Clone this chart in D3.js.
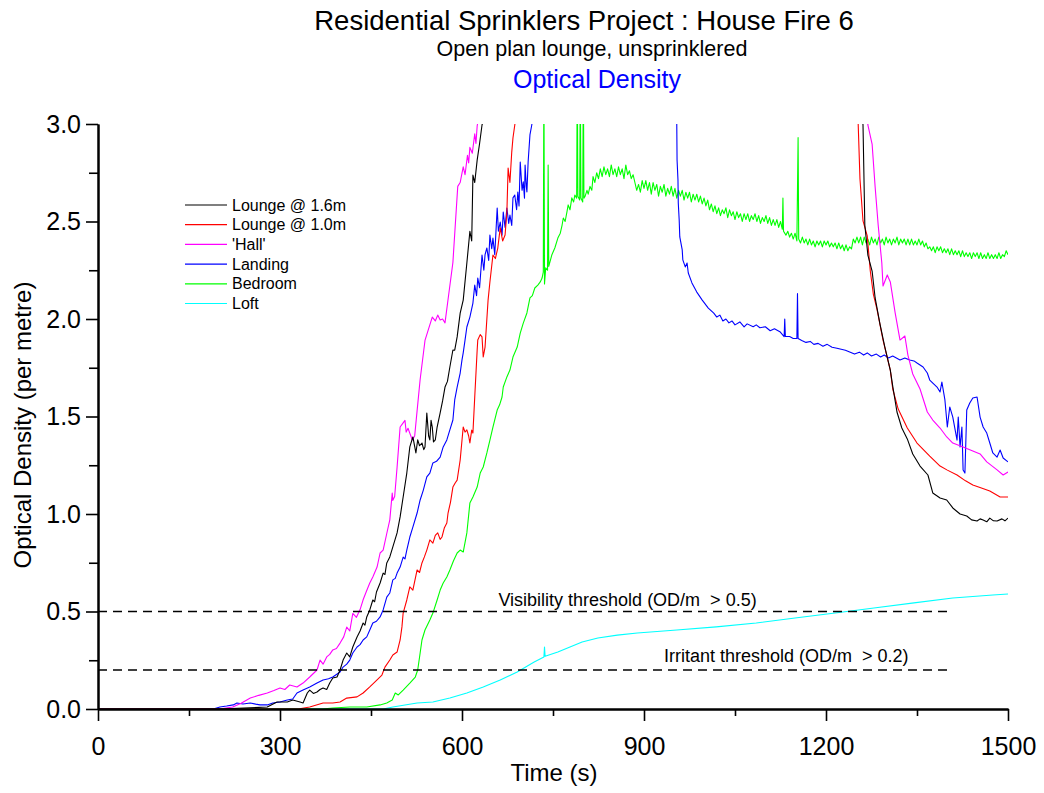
<!DOCTYPE html>
<html><head><meta charset="utf-8">
<script src="https://cdn.jsdelivr.net/npm/d3@7"></script>
<style>
body{margin:0;background:#fff}
svg text{font-family:Arial,"Liberation Sans",sans-serif}
</style></head>
<body><svg id="chart" width="1044" height="793"></svg>
<script>
// ---------------- data ----------------
const xTicks = [0,300,600,900,1200,1500];
const xMinorTicks = [150,450,750,1050,1350];
const yTicks = [0,0.5,1.0,1.5,2.0,2.5,3.0];
const yMinorTicks = [0.25,0.75,1.25,1.75,2.25,2.75];

const seriesNames = ["Lounge @ 1.6m","Lounge @ 1.0m","'Hall'","Landing","Bedroom","Loft"];
const seriesColors = ["#000000","#ff0000","#ff00ff","#0000ff","#00ff00","#00ffff"];

const thresholdNames = ["Visibility threshold (OD/m  > 0.5)","Irritant threshold (OD/m  > 0.2)"];
const thresholdValues = [0.5,0.2];
const thresholdEnd = 1400;

// [time (s), optical density (per metre)]; null = off scale (above 3.0)
const lounge16 = [[0,0],[200,0],[279,0.01],[295,0.036],[312,0.036],[321,0.046],[333,0.036],[338,0.031],[345,0.082],[349,0.097],[355,0.08],[361,0.087],[366,0.1],[371,0.108],[377,0.1],[382,0.133],[387,0.159],[394,0.164],[399,0.2],[404,0.251],[410,0.287],[415,0.267],[420,0.318],[427,0.369],[432,0.40],[437,0.441],[440,0.43],[443,0.472],[448,0.508],[453,0.559],[456,0.55],[459,0.60],[465,0.646],[470,0.697],[473,0.69],[476,0.749],[481,0.78],[486,0.831],[493,0.903],[498,0.985],[503,1.087],[509,1.21],[514,1.344],[519,1.395],[524,1.313],[527,1.38],[530,1.35],[534,1.364],[537,1.33],[539,1.344],[542,1.518],[545,1.40],[547,1.38],[549,1.48],[551,1.446],[553,1.37],[556,1.38],[559,1.446],[564,1.518],[568,1.58],[572,1.651],[576,1.68],[580,1.754],[585,1.841],[588,1.84],[592,1.908],[597,2.03],[602,2.097],[608,2.287],[613,2.45],[616,2.40],[618,2.738],[621,2.70],[625,2.815],[629,2.90],[633,2.995],[640,3.07],[641,null],[1258,null],[1259,3.07],[1261,2.995],[1264,2.482],[1269,2.328],[1276,2.246],[1281,2.108],[1289,1.974],[1297,1.856],[1306,1.738],[1310,1.656],[1317,1.523],[1325,1.441],[1334,1.385],[1343,1.308],[1355,1.246],[1368,1.2],[1376,1.108],[1388,1.082],[1399,1.072],[1409,1.031],[1421,1.0],[1432,0.99],[1440,0.97],[1449,0.964],[1454,0.975],[1459,0.969],[1465,0.96],[1470,0.979],[1476,0.965],[1482,0.964],[1490,0.975],[1495,0.965],[1500,0.979]];

const lounge10 = [[0,0],[330,0],[349,0.01],[371,0.031],[387,0.031],[399,0.036],[410,0.056],[427,0.062],[437,0.082],[448,0.113],[460,0.149],[468,0.174],[473,0.215],[481,0.251],[486,0.277],[493,0.292],[498,0.354],[501,0.421],[503,0.492],[509,0.559],[514,0.626],[519,0.61],[526,0.713],[530,0.70],[534,0.749],[538,0.78],[542,0.815],[547,0.867],[552,0.851],[556,0.89],[560,0.903],[564,0.87],[567,0.882],[571,0.93],[575,0.954],[577,1.005],[581,1.06],[585,1.138],[589,1.16],[592,1.174],[597,1.277],[602,1.446],[605,1.42],[608,1.431],[611,1.40],[613,1.364],[616,1.43],[618,1.415],[621,1.6],[625,1.841],[626,1.892],[630,1.92],[633,1.908],[635,1.805],[638,1.856],[643,2.097],[646,2.19],[651,2.328],[655,2.31],[659,2.364],[663,2.467],[667,2.40],[671,2.431],[674,2.549],[676,2.774],[679,2.70],[682,2.856],[684,2.928],[687,2.995],[691,3.07],[692,null],[1250,null],[1251,3.07],[1253,3.005],[1256,2.718],[1261,2.503],[1268,2.426],[1273,2.246],[1278,2.128],[1284,2.051],[1294,1.892],[1306,1.738],[1310,1.641],[1319,1.538],[1334,1.441],[1350,1.364],[1371,1.297],[1388,1.246],[1400,1.225],[1416,1.2],[1430,1.17],[1442,1.149],[1455,1.135],[1470,1.118],[1487,1.087],[1500,1.087]];

const hall = [[0,0],[200,0],[222,0.01],[236,0.03],[251,0.056],[265,0.07],[279,0.082],[290,0.095],[300,0.108],[308,0.10],[316,0.123],[328,0.113],[338,0.133],[349,0.164],[361,0.2],[366,0.251],[371,0.23],[377,0.267],[382,0.28],[387,0.303],[393,0.31],[399,0.338],[405,0.37],[410,0.42],[415,0.40],[420,0.49],[426,0.47],[432,0.51],[437,0.56],[442,0.60],[448,0.646],[453,0.677],[460,0.728],[465,0.80],[470,0.815],[476,0.90],[481,0.97],[485,1.108],[486,1.07],[489,1.09],[493,1.24],[498,1.446],[503,1.467],[506,1.48],[508,1.42],[511,1.44],[518,1.38],[522,1.40],[526,1.53],[531,1.69],[539,1.89],[544,1.94],[551,2.01],[556,1.99],[560,2.02],[564,1.995],[568,2.00],[572,1.98],[577,2.10],[585,2.29],[593,2.68],[597,2.70],[602,2.78],[605,2.74],[609,2.84],[611,2.80],[613,2.88],[617,2.85],[621,2.95],[623,2.90],[625,2.99],[630,3.07],[631,null],[1267,null],[1268,3.07],[1269,2.995],[1276,2.897],[1281,2.677],[1286,2.482],[1292,2.287],[1294,2.169],[1301,2.226],[1306,2.19],[1314,2.031],[1322,1.892],[1330,1.913],[1335,1.815],[1343,1.718],[1355,1.641],[1367,1.523],[1376,1.482],[1388,1.441],[1399,1.395],[1409,1.364],[1426,1.344],[1442,1.323],[1454,1.308],[1465,1.267],[1482,1.226],[1492,1.2],[1500,1.215]];

const landing = [[0,0],[190,0],[201,0.01],[212,0.015],[223,0.021],[229,0.031],[239,0.026],[251,0.031],[260,0.025],[267,0.021],[279,0.021],[288,0.031],[300,0.036],[312,0.046],[321,0.051],[328,0.082],[338,0.097],[349,0.113],[361,0.133],[371,0.149],[380,0.155],[387,0.164],[399,0.19],[404,0.215],[410,0.23],[415,0.251],[420,0.287],[427,0.318],[432,0.33],[437,0.354],[443,0.37],[448,0.405],[453,0.441],[459,0.45],[465,0.472],[470,0.508],[476,0.574],[481,0.595],[486,0.662],[490,0.67],[493,0.697],[498,0.728],[503,0.779],[506,0.77],[509,0.815],[514,0.882],[519,0.933],[526,1.005],[531,1.072],[536,1.12],[542,1.19],[547,1.21],[552,1.262],[558,1.27],[564,1.292],[569,1.344],[575,1.38],[580,1.431],[585,1.482],[588,1.585],[592,1.651],[597,1.723],[600,1.79],[602,1.826],[605,1.892],[608,1.959],[613,2.01],[618,2.082],[621,2.174],[624,2.12],[626,2.21],[629,2.16],[633,2.328],[636,2.25],[638,2.33],[641,2.364],[644,2.30],[646,2.431],[649,2.36],[651,2.415],[654,2.33],[656,2.45],[658,2.569],[660,2.45],[663,2.497],[666,2.43],[668,2.549],[671,2.47],[674,2.569],[677,2.49],[679,2.533],[682,2.48],[684,2.621],[687,2.636],[690,2.56],[692,2.651],[694,2.58],[696,2.805],[699,2.66],[701,2.703],[703,2.62],[704,2.79],[706,2.68],[707,2.651],[709,2.805],[712,2.944],[715,2.995],[719,3.07],[720,null],[952,null],[953,3.07],[954,3.005],[954.5,2.815],[956,2.713],[956.5,2.595],[958,2.508],[959,2.421],[963,2.354],[964,2.303],[968,2.267],[971,2.287],[973,2.236],[979,2.185],[987,2.138],[996,2.097],[1006,2.056],[1015,2.03],[1020,2.01],[1025,2.02],[1030,1.99],[1035,2.00],[1040,1.98],[1045,1.99],[1050,1.97],[1058,1.985],[1065,1.96],[1070,1.975],[1080,1.96],[1085,1.97],[1091,1.955],[1100,1.96],[1108,1.94],[1115,1.95],[1124,1.935],[1131,1.91],[1132,2.0],[1133,1.91],[1140,1.91],[1146,1.90],[1152,1.90],[1153,2.13],[1154,1.90],[1160,1.89],[1167,1.88],[1174,1.885],[1180,1.87],[1187,1.875],[1195,1.86],[1202,1.87],[1210,1.855],[1218,1.85],[1225,1.845],[1232,1.84],[1240,1.83],[1247,1.82],[1255,1.83],[1262,1.815],[1268,1.826],[1275,1.81],[1283,1.82],[1290,1.805],[1296,1.815],[1303,1.80],[1310,1.81],[1322,1.79],[1330,1.80],[1338,1.79],[1345,1.785],[1350,1.774],[1360,1.754],[1367,1.723],[1371,1.687],[1383,1.651],[1388,1.626],[1391,1.677],[1396,1.585],[1400,1.446],[1404,1.549],[1409,1.497],[1416,1.379],[1418,1.497],[1421,1.344],[1424,1.446],[1426,1.226],[1429,1.21],[1432,1.533],[1437,1.569],[1442,1.595],[1449,1.6],[1454,1.497],[1459,1.446],[1465,1.415],[1470,1.364],[1475,1.313],[1482,1.292],[1487,1.328],[1492,1.287],[1500,1.267]];

const bedroom = [[0,0],[370,0],[387,0.005],[415,0.01],[443,0.01],[465,0.021],[476,0.031],[485,0.046],[490,0.082],[495,0.072],[503,0.097],[514,0.133],[523,0.164],[527,0.2],[531,0.287],[534,0.354],[539,0.405],[547,0.456],[552,0.492],[559,0.559],[564,0.61],[569,0.646],[575,0.677],[580,0.713],[586,0.76],[592,0.8],[597,0.815],[602,0.805],[608,0.903],[613,1.056],[618,1.087],[625,1.138],[630,1.21],[635,1.241],[641,1.313],[646,1.379],[651,1.446],[658,1.533],[662,1.56],[666,1.6],[668,1.651],[674,1.703],[679,1.738],[684,1.805],[691,1.856],[696,1.928],[701,1.979],[707,2.031],[712,2.108],[716,2.12],[720,2.159],[725,2.174],[729,2.19],[732,2.21],[734,2.241],[735,3.3],[736,2.18],[738,2.262],[741,2.25],[742,2.79],[743,2.27],[748,2.328],[753,2.364],[758,2.415],[762,2.44],[765,2.482],[767,2.518],[770,2.50],[773,2.549],[775,2.585],[778,2.56],[781,2.621],[784,2.60],[786,2.636],[789,2.62],[790,3.3],[791,2.63],[794,2.61],[795,3.3],[796,2.62],[799,2.60],[800,3.3],[801,2.62],[803,2.63],[806,2.66],[808,2.64],[811,2.68],[814,2.66],[816,2.73],[819,2.70],[822,2.75],[825,2.72],[828,2.77],[831,2.73],[834,2.78],[837,2.74],[840,2.77],[843,2.73],[846,2.79],[849,2.74],[852,2.77],[855,2.73],[858,2.78],[861,2.74],[864,2.77],[867,2.72],[870,2.79],[873,2.74],[876,2.76],[879,2.72],[882,2.74],[885,2.70],[888,2.66],[891,2.69],[894,2.65],[897,2.71],[900,2.67],[903,2.71],[906,2.66],[909,2.70],[912,2.64],[915,2.70],[918,2.66],[921,2.69],[924,2.63],[927,2.68],[930,2.65],[933,2.69],[936,2.63],[939,2.67],[942,2.64],[945,2.68],[948,2.63],[951,2.67],[954,2.62],[957,2.66],[960,2.63],[963,2.66],[966,2.61],[969,2.65],[972,2.62],[975,2.65],[978,2.60],[981,2.64],[984,2.61],[987,2.64],[990,2.60],[993,2.63],[996,2.59],[999,2.62],[1002,2.58],[1005,2.61],[1008,2.56],[1011,2.59],[1014,2.55],[1017,2.58],[1020,2.54],[1023,2.57],[1026,2.53],[1029,2.56],[1032,2.54],[1035,2.57],[1038,2.52],[1041,2.56],[1044,2.53],[1047,2.55],[1050,2.51],[1053,2.55],[1056,2.52],[1059,2.54],[1062,2.50],[1065,2.54],[1068,2.51],[1071,2.54],[1074,2.50],[1077,2.53],[1080,2.51],[1083,2.54],[1086,2.50],[1089,2.53],[1092,2.49],[1095,2.52],[1098,2.50],[1101,2.53],[1104,2.49],[1107,2.52],[1110,2.48],[1113,2.51],[1116,2.48],[1119,2.51],[1122,2.47],[1125,2.50],[1128,2.46],[1129,2.62],[1130,2.45],[1134,2.43],[1137,2.45],[1140,2.42],[1143,2.44],[1146,2.41],[1149,2.44],[1152,2.40],[1154,2.93],[1155,2.41],[1158,2.39],[1161,2.42],[1164,2.39],[1167,2.41],[1170,2.38],[1173,2.41],[1176,2.38],[1179,2.40],[1182,2.37],[1185,2.40],[1188,2.38],[1191,2.40],[1194,2.37],[1197,2.40],[1200,2.38],[1203,2.40],[1206,2.37],[1209,2.39],[1212,2.37],[1215,2.39],[1218,2.36],[1221,2.39],[1224,2.36],[1227,2.38],[1230,2.35],[1233,2.38],[1236,2.35],[1239,2.37],[1242,2.36],[1245,2.41],[1248,2.39],[1251,2.42],[1254,2.39],[1257,2.42],[1260,2.38],[1263,2.42],[1266,2.39],[1269,2.41],[1272,2.38],[1275,2.42],[1278,2.39],[1281,2.41],[1284,2.38],[1287,2.42],[1290,2.39],[1293,2.41],[1296,2.38],[1299,2.42],[1302,2.39],[1305,2.41],[1308,2.38],[1311,2.41],[1314,2.39],[1317,2.42],[1320,2.38],[1323,2.41],[1326,2.39],[1329,2.41],[1332,2.38],[1335,2.41],[1338,2.38],[1341,2.41],[1344,2.38],[1347,2.40],[1350,2.38],[1353,2.41],[1356,2.38],[1359,2.40],[1362,2.37],[1365,2.39],[1368,2.36],[1371,2.37],[1374,2.35],[1377,2.37],[1380,2.34],[1383,2.37],[1386,2.35],[1389,2.37],[1392,2.34],[1395,2.36],[1398,2.34],[1401,2.36],[1404,2.33],[1407,2.36],[1410,2.33],[1413,2.35],[1416,2.33],[1419,2.35],[1422,2.32],[1425,2.35],[1428,2.32],[1431,2.34],[1434,2.32],[1437,2.34],[1440,2.31],[1443,2.34],[1446,2.32],[1449,2.34],[1452,2.31],[1455,2.34],[1458,2.31],[1461,2.33],[1464,2.31],[1467,2.34],[1470,2.31],[1473,2.33],[1476,2.31],[1479,2.33],[1482,2.31],[1485,2.34],[1488,2.31],[1491,2.33],[1494,2.32],[1497,2.35],[1500,2.33]];

const loft = [[0,0],[470,0],[486,0.01],[526,0.031],[552,0.036],[580,0.056],[608,0.082],[635,0.113],[663,0.149],[691,0.19],[719,0.241],[735,0.267],[736,0.318],[737,0.27],[758,0.292],[778,0.318],[798,0.344],[824,0.364],[856,0.379],[889,0.39],[954,0.405],[1019,0.421],[1085,0.441],[1149,0.467],[1215,0.492],[1279,0.518],[1345,0.544],[1409,0.569],[1475,0.585],[1500,0.59]];

const seriesData = [lounge16, lounge10, hall, landing, bedroom, loft];

// ---------------- drawing ----------------
const svg = d3.select("#chart");
const x = d3.scaleLinear().domain([0,1500]).range([98,1008]);
const y = d3.scaleLinear().domain([0,3]).range([709,124]);

svg.append("defs").append("clipPath").attr("id","plot")
  .append("rect").attr("x",x(0)).attr("y",y(3)).attr("width",x(1500)-x(0)).attr("height",y(0)-y(3));

// titles
svg.append("text").attr("x",584).attr("y",30).attr("text-anchor","middle")
  .attr("font-size",27.5).text("Residential Sprinklers Project : House Fire 6");
svg.append("text").attr("x",592).attr("y",56).attr("text-anchor","middle")
  .attr("font-size",21.5).text("Open plan lounge, unsprinklered");
svg.append("text").attr("x",597).attr("y",88).attr("text-anchor","middle")
  .attr("font-size",25).attr("fill","#0000ff").text("Optical Density");

// series (drawn back to front)
const line = d3.line().defined(d => d[1] !== null).x(d => x(d[0])).y(d => y(d[1]));
const g = svg.append("g").attr("clip-path","url(#plot)");
for (let i = seriesData.length - 1; i >= 0; i--) {
  g.append("path").datum(seriesData[i]).attr("fill","none")
    .attr("stroke",seriesColors[i]).attr("stroke-width",1.1)
    .attr("stroke-linejoin","round").attr("d",line);
}

// thresholds
thresholdValues.forEach(v => {
  svg.append("line").attr("x1",x(0)).attr("x2",x(thresholdEnd))
    .attr("y1",y(v)).attr("y2",y(v))
    .attr("stroke","#000").attr("stroke-width",1.6).attr("stroke-dasharray","9,6");
});
svg.append("text").attr("x",x(660)).attr("y",y(0.53)).attr("font-size",18)
  .style("white-space","pre").text(thresholdNames[0]);
svg.append("text").attr("x",x(933)).attr("y",y(0.24)).attr("font-size",18)
  .style("white-space","pre").text(thresholdNames[1]);

// axes
function styleAxis(sel){
  sel.selectAll("path.domain").attr("stroke","#000").attr("stroke-width",2);
  sel.selectAll(".tick line").attr("stroke","#000").attr("stroke-width",1.6);
  sel.selectAll(".tick text").attr("fill","#000").attr("font-size",25)
    .attr("font-family","Arial, 'Liberation Sans', sans-serif");
}
const xa = svg.append("g").attr("transform",`translate(0,${y(0)})`)
  .call(d3.axisBottom(x).tickValues(xTicks).tickFormat(d3.format("d")).tickSize(12).tickSizeOuter(0).tickPadding(16));
styleAxis(xa);
const xm = svg.append("g").attr("transform",`translate(0,${y(0)})`)
  .call(d3.axisBottom(x).tickValues(xMinorTicks).tickFormat("").tickSize(7).tickSizeOuter(0));
styleAxis(xm);
const ya = svg.append("g").attr("transform",`translate(${x(0)},0)`)
  .call(d3.axisLeft(y).tickValues(yTicks).tickFormat(d3.format(".1f")).tickSize(12).tickSizeOuter(0).tickPadding(5));
styleAxis(ya);
const ym = svg.append("g").attr("transform",`translate(${x(0)},0)`)
  .call(d3.axisLeft(y).tickValues(yMinorTicks).tickFormat("").tickSize(9).tickSizeOuter(0));
styleAxis(ym);

// axis titles
svg.append("text").attr("x",554).attr("y",781).attr("text-anchor","middle")
  .attr("font-size",24).text("Time (s)");
svg.append("text").attr("transform","translate(31,425) rotate(-90)").attr("text-anchor","middle")
  .attr("font-size",24).text("Optical Density (per metre)");

// legend
const lg = svg.append("g");
seriesNames.forEach((n,i) => {
  const yy = 205 + i*19.7;
  lg.append("line").attr("x1",185).attr("x2",227).attr("y1",yy).attr("y2",yy)
    .attr("stroke",seriesColors[i]).attr("stroke-width",1.2);
  lg.append("text").attr("x",232).attr("y",yy).attr("dy","0.35em").attr("font-size",16).text(n);
});
</script></body></html>
